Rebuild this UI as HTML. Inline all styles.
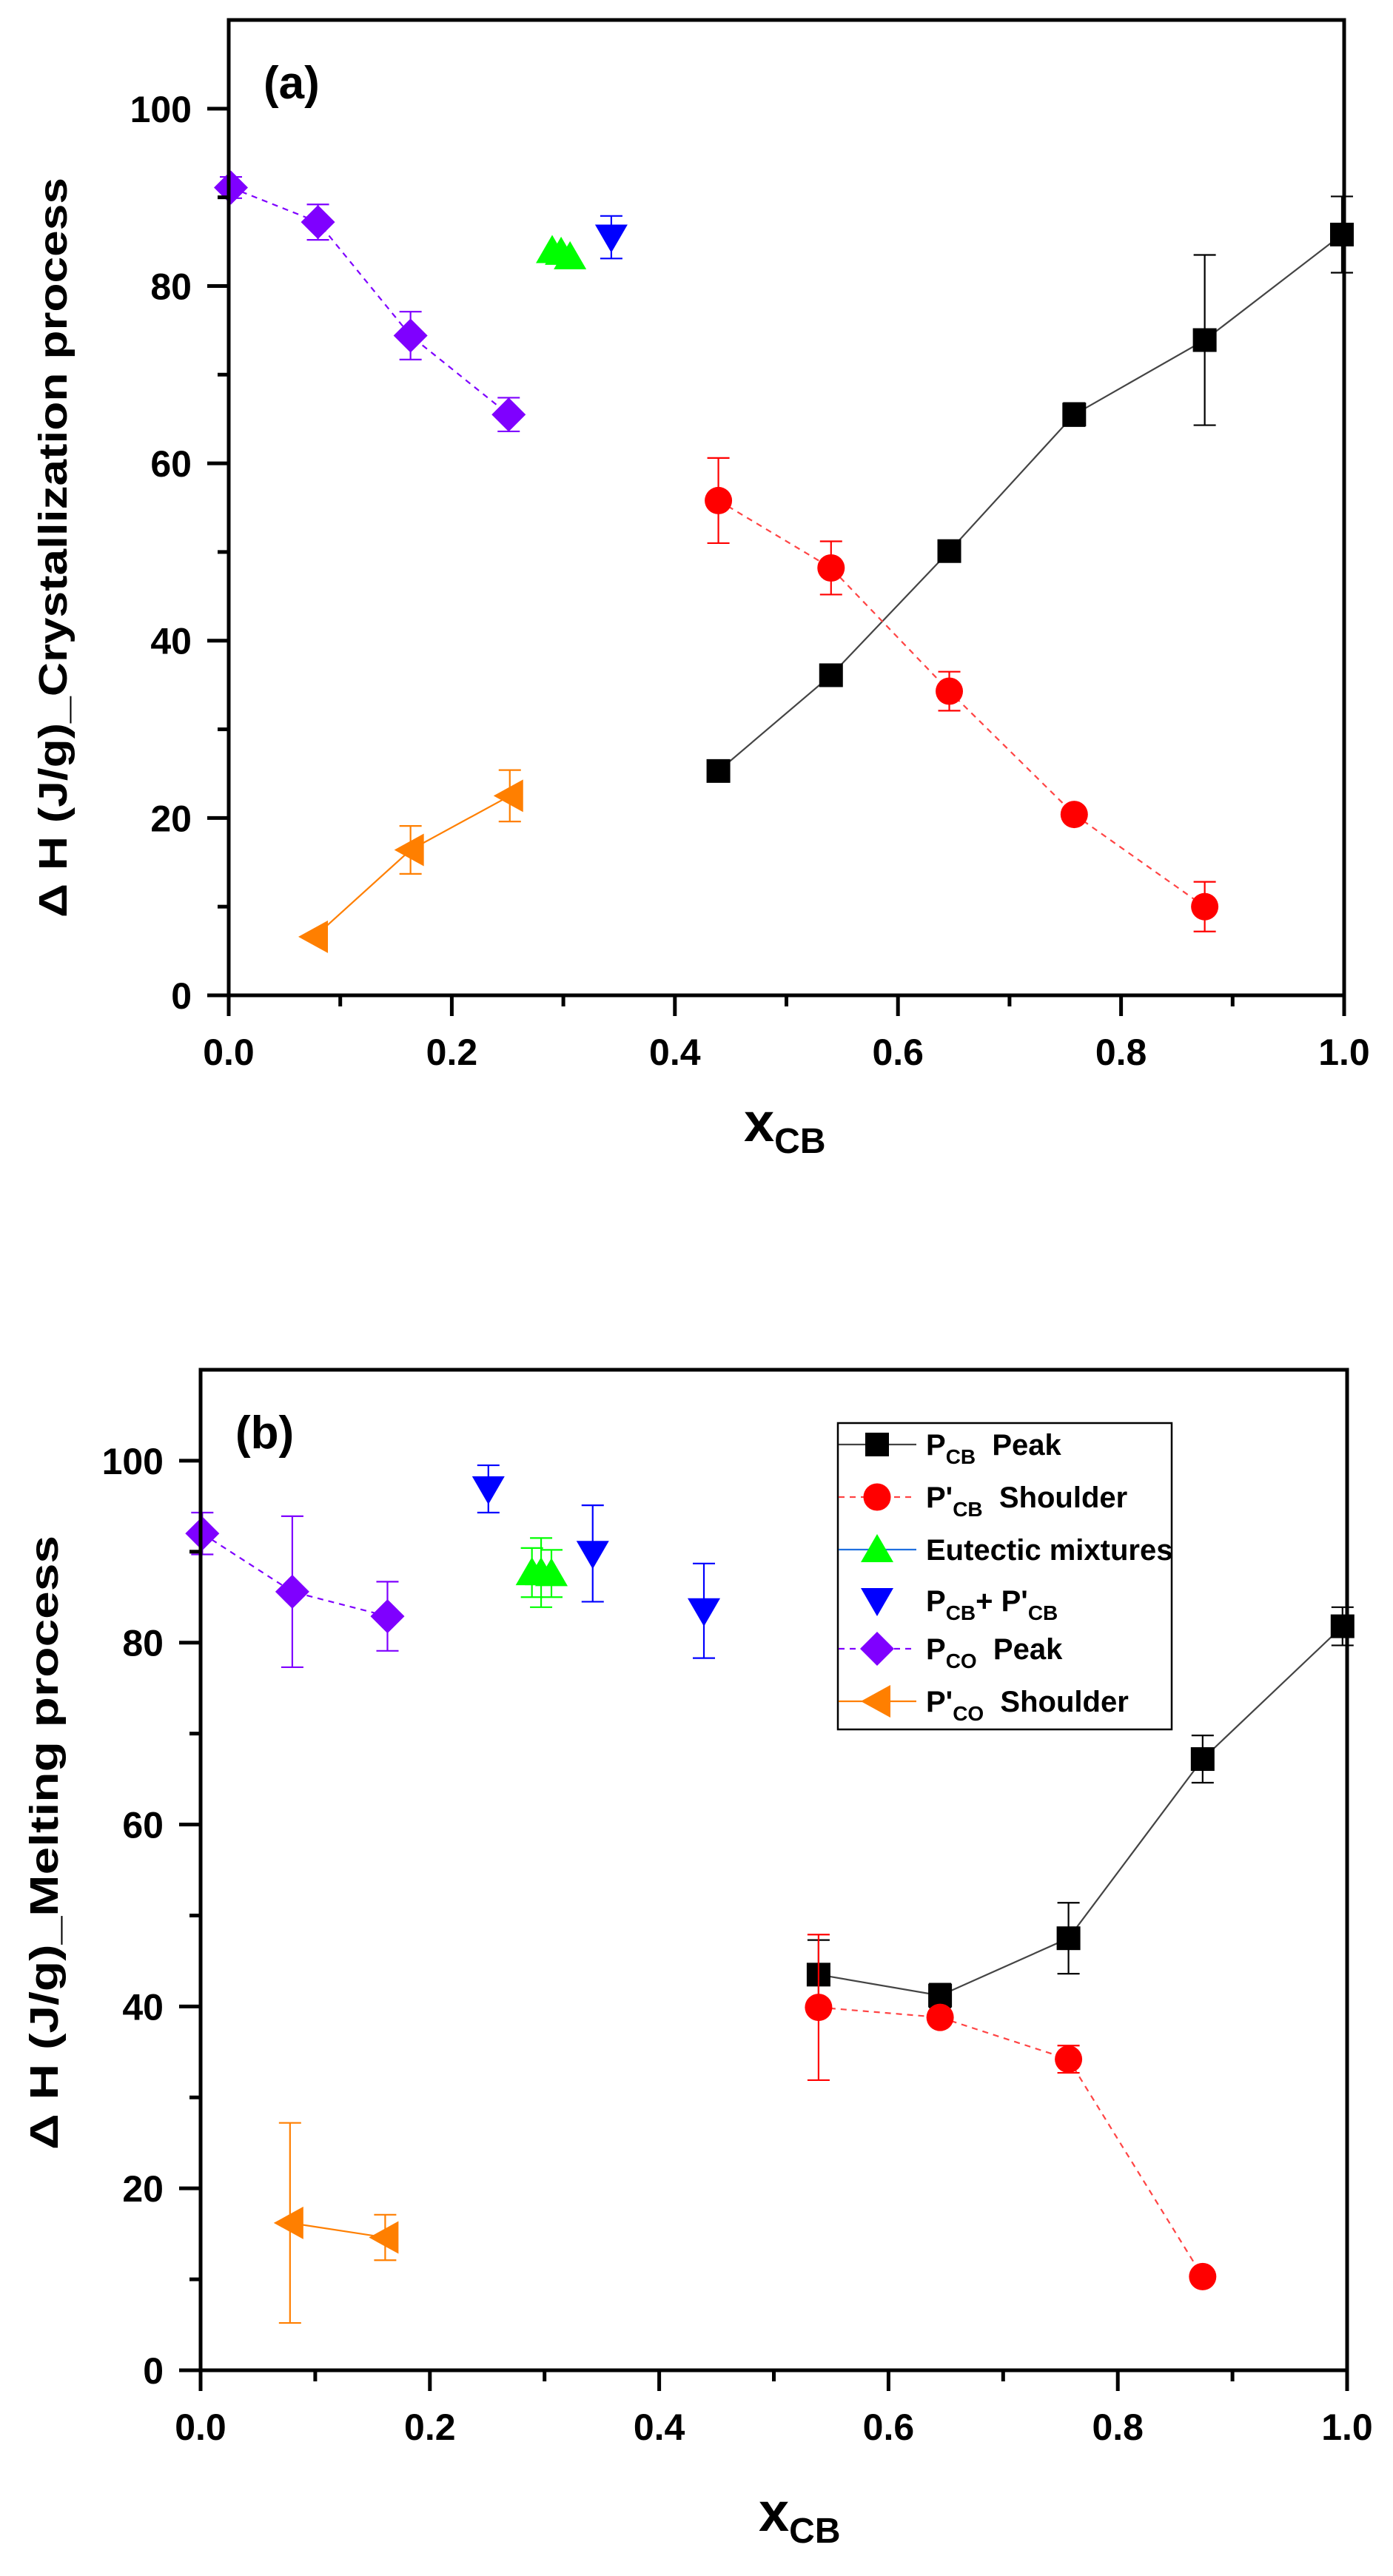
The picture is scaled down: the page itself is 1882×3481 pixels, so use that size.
<!DOCTYPE html>
<html><head><meta charset="utf-8"><style>
html,body{margin:0;padding:0;background:#fff;}
svg{display:block;font-family:"Liberation Sans",sans-serif;font-weight:bold;}
.pre{white-space:pre;}
</style></head><body>
<svg id="chart" width="1882" height="3481" viewBox="0 0 1882 3481" xmlns="http://www.w3.org/2000/svg"></svg>
<script>
// ---------- data: panel (a) crystallization ----------
const aPcbX=[0.439,0.54,0.646,0.758,0.875,0.998];
const aPcbY=[25.3,36.1,50.1,65.5,73.9,85.8];
const aPcbErr=[0.5,0.8,0.8,1.3,9.6,4.3];
const aPpcbX=[0.439,0.54,0.646,0.758,0.875];
const aPpcbY=[55.8,48.2,34.3,20.4,10.0];
const aPpcbErr=[4.8,3.0,2.2,0.5,2.8];
const aEutX=[0.29,0.298,0.306];
const aEutY=[84.0,83.8,83.3];
const aEutErr=[0.5,0.5,0.5];
const aMixX=[0.343];
const aMixY=[85.5];
const aMixErr=[2.4];
const aPcoX=[0.002,0.08,0.163,0.251];
const aPcoY=[91.1,87.2,74.4,65.5];
const aPcoErr=[1.2,2.0,2.7,1.9];
const aPpcoX=[0.077,0.163,0.252];
const aPpcoY=[6.6,16.4,22.5];
const aPpcoErr=[0.3,2.7,2.9];
// ---------- data: panel (b) melting ----------
const bPcbX=[0.539,0.645,0.757,0.874,0.996];
const bPcbY=[43.5,41.2,47.5,67.2,81.8];
const bPcbErr=[3.8,1.3,3.9,2.6,2.1];
const bPpcbX=[0.539,0.645,0.757,0.874];
const bPpcbY=[39.9,38.8,34.2,10.3];
const bPpcbErr=[8.0,0.5,1.5,0.5];
const bEutX=[0.289,0.297,0.306];
const bEutY=[87.7,87.7,87.6];
const bEutErr=[2.7,3.8,2.6];
const bMixX=[0.251,0.342,0.439];
const bMixY=[96.9,89.8,83.5];
const bMixErr=[2.6,5.3,5.2];
const bPcoX=[0.0015,0.08,0.163];
const bPcoY=[92.0,85.6,82.9];
const bPcoErr=[2.3,8.3,3.8];
const bPpcoX=[0.078,0.161];
const bPpcoY=[16.2,14.6];
const bPpcoErr=[11.0,2.5];
const xTicks=["0.0","0.2","0.4","0.6","0.8","1.0"];
const yTicks=["0","20","40","60","80","100"];

const NS="http://www.w3.org/2000/svg";
const svg=document.getElementById('chart');
function mk(tag,attrs,parent){const e=document.createElementNS(NS,tag);for(const k in attrs)e.setAttribute(k,attrs[k]);(parent||svg).appendChild(e);return e;}

const C={pcb:'#000',ppcb:'#ff0000',eut:'#00ff00',mix:'#0000ff',pco:'#7f00ff',ppco:'#ff7f00'};
const L={pcb:'#444',ppcb:'#f44',eut:'#1f6fdf',mix:'#0000ff',pco:'#7f00ff',ppco:'#ff7f00'};

function marker(g,type,cx,cy,col){
  let m;
  if(type==='sq') m=mk('rect',{x:cx-16,y:cy-16,width:32,height:32,fill:col},g);
  else if(type==='ci') m=mk('circle',{cx:cx,cy:cy,r:18.5,fill:col},g);
  else if(type==='up') m=mk('polygon',{points:`${cx},${cy-21} ${cx+22},${cy+17} ${cx-22},${cy+17}`,fill:col},g);
  else if(type==='dn') m=mk('polygon',{points:`${cx},${cy+21} ${cx+22},${cy-17} ${cx-22},${cy-17}`,fill:col},g);
  else if(type==='di') m=mk('polygon',{points:`${cx},${cy-23} ${cx+23},${cy} ${cx},${cy+23} ${cx-23},${cy}`,fill:col},g);
  else m=mk('polygon',{points:`${cx-22},${cy} ${cx+18},${cy-22} ${cx+18},${cy+22}`,fill:col},g);
  return m;
}

function panel(P){
  const g=mk('g',{});
  
  
  const sx=v=>P.x0+v*(P.x1-P.x0);
  const sy=v=>P.y0-v*(P.y0-P.yt)/110;
  P.series.forEach(s=>{
    const sg=mk('g',{},g);
    
    
    if(s.line){
      const pts=s.x.map((v,i)=>sx(v)+','+sy(s.y[i])).join(' ');
      const pl=mk('polyline',{points:pts,fill:'none',stroke:L[s.key],'stroke-width':2.2,'stroke-dasharray':s.dash?'8,7':'none'},sg);
      
      
    }
    s.x.forEach((v,i)=>{
      const cx=sx(v),cy=sy(s.y[i]),e=s.err[i];
      if(e>0.6){
        const eb=mk('path',{d:`M${cx},${sy(s.y[i]+e)}V${sy(s.y[i]-e)}M${cx-15},${sy(s.y[i]+e)}h30M${cx-15},${sy(s.y[i]-e)}h30`,stroke:C[s.key],'stroke-width':2.2,fill:'none'},sg);
        
        
      }
      const m=marker(sg,s.m,cx,cy,C[s.key]);
      
      
    });
  });
  const fr=mk('rect',{x:P.x0,y:P.yt,width:P.x1-P.x0,height:P.y0-P.yt,fill:'none',stroke:'#000','stroke-width':5},g);
  
  
  for(let i=0;i<=10;i++){
    const x=sx(i/10);const major=i%2===0;
    mk('line',{x1:x,y1:P.y0,x2:x,y2:P.y0+(major?28:15),stroke:'#000','stroke-width':5},g);
    if(major){
      const t=mk('text',{x:x,y:P.y0+94,'text-anchor':'middle','font-size':50},g);
      t.textContent=xTicks[i/2];
      
      
    }
  }
  for(let v=0;v<=100;v+=10){
    const y=sy(v);const major=v%20===0;
    mk('line',{x1:P.x0,y1:y,x2:P.x0-(major?29:15),y2:y,stroke:'#000','stroke-width':5},g);
    if(major){
      const t=mk('text',{x:P.x0-50,y:y+18,'text-anchor':'end','font-size':50},g);
      t.textContent=yTicks[v/20];
      
      
    }
  }
  const pl=mk('text',{x:P.x0+47,y:P.yt+106,'font-size':62},g);
  pl.textContent=P.tag;
  
  
  const yl=mk('text',{x:0,y:0,'text-anchor':'middle','font-size':54,transform:`translate(${P.ylx},${P.yly}) rotate(-90)`,textLength:P.ylLen,lengthAdjust:'spacingAndGlyphs'},g);
  yl.textContent=P.ylabel;
  
  
  const xl=mk('text',{x:P.xlx,y:P.xly,'font-size':74},g);
  xl.innerHTML='x<tspan font-size="48" dy="16">CB</tspan>';
  
  
  return g;
}

panel({name:'panel-a-crystallization',x0:309,x1:1816,y0:1345,yt:27,tag:'(a)',
  ylabel:'\u0394 H (J/g)_Crystallization process',ylx:90,yly:740,ylLen:1000,xlx:1005,xly:1542,
  series:[
   {key:'pcb',x:aPcbX,y:aPcbY,err:aPcbErr,m:'sq',line:true},
   {key:'ppcb',x:aPpcbX,y:aPpcbY,err:aPpcbErr,m:'ci',line:true,dash:true},
   {key:'eut',x:aEutX,y:aEutY,err:aEutErr,m:'up'},
   {key:'mix',x:aMixX,y:aMixY,err:aMixErr,m:'dn'},
   {key:'pco',x:aPcoX,y:aPcoY,err:aPcoErr,m:'di',line:true,dash:true},
   {key:'ppco',x:aPpcoX,y:aPpcoY,err:aPpcoErr,m:'lt',line:true}]});

panel({name:'panel-b-melting',x0:271,x1:1820,y0:3203,yt:1851,tag:'(b)',
  ylabel:'\u0394 H (J/g)_Melting process',ylx:78,yly:2490,ylLen:830,xlx:1025,xly:3420,
  series:[
   {key:'pcb',x:bPcbX,y:bPcbY,err:bPcbErr,m:'sq',line:true},
   {key:'ppcb',x:bPpcbX,y:bPpcbY,err:bPpcbErr,m:'ci',line:true,dash:true},
   {key:'eut',x:bEutX,y:bEutY,err:bEutErr,m:'up'},
   {key:'mix',x:bMixX,y:bMixY,err:bMixErr,m:'dn'},
   {key:'pco',x:bPcoX,y:bPcoY,err:bPcoErr,m:'di',line:true,dash:true},
   {key:'ppco',x:bPpcoX,y:bPpcoY,err:bPpcoErr,m:'lt',line:true}]});

const lg=mk('g',{});


mk('rect',{x:1132,y:1923,width:451,height:414,fill:'#fff',stroke:'#000','stroke-width':2.5},lg);
const SUB=s=>`<tspan font-size="28" dy="12">${s}</tspan>`;
const legRows=[
 {key:'pcb',m:'sq',html:`P${SUB('CB')}<tspan dy="-12">  Peak</tspan>`,line:true},
 {key:'ppcb',m:'ci',html:`P'${SUB('CB')}<tspan dy="-12">  Shoulder</tspan>`,line:true,dash:true},
 {key:'eut',m:'up',html:`Eutectic mixtures`,line:true},
 {key:'mix',m:'dn',html:`P${SUB('CB')}<tspan dy="-12">+ P'</tspan>${SUB('CB')}`},
 {key:'pco',m:'di',html:`P${SUB('CO')}<tspan dy="-12">  Peak</tspan>`,line:true,dash:true},
 {key:'ppco',m:'lt',html:`P'${SUB('CO')}<tspan dy="-12">  Shoulder</tspan>`,line:true}];
const legY=[1952,2023,2094,2163,2228,2299];
legRows.forEach((r,i)=>{
  const eg=mk('g',{},lg);
  
  
  const y=legY[i];
  if(r.line) mk('line',{x1:1133,y1:y,x2:1238,y2:y,stroke:L[r.key],'stroke-width':2.2,'stroke-dasharray':r.dash?'8,7':'none'},eg);
  marker(eg,r.m,1185,y,C[r.key]);
  const t=mk('text',{x:1251,y:y+14,'font-size':40,'class':'pre'},eg);
  t.innerHTML=r.html;
});
</script>
</body></html>
